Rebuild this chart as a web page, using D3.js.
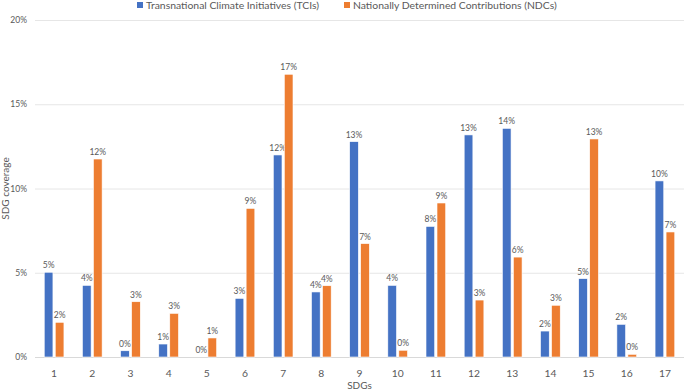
<!DOCTYPE html>
<html>
<head>
<meta charset="utf-8">
<script src="https://cdn.jsdelivr.net/npm/d3@7"></script>
<style>
  body { margin: 0; background: #fff; }
  svg text { font-family: Lato, "Open Sans", sans-serif; fill: #595959; }
</style>
</head>
<body>
<div id="chart"></div>
<script>
// SDG coverage per goal (percent)
var sdgs = ["1","2","3","4","5","6","7","8","9","10","11","12","13","14","15","16","17"];
var tciValues = [5.03, 4.25, 0.37, 0.77, 0, 3.48, 11.99, 3.86, 12.78, 4.25, 7.75, 13.18, 13.57, 1.54, 4.65, 1.94, 10.45];
var ndcValues = [2.06, 11.75, 3.28, 2.59, 1.13, 8.82, 16.78, 4.23, 6.73, 0.40, 9.14, 3.38, 5.93, 3.07, 12.94, 0.16, 7.42];
var seriesNames = ["Transnational Climate Initiatives (TCIs)", "Nationally Determined Contributions (NDCs)"];
var seriesColors = ["#4472C4", "#ED7D31"];
var yTicks = [0, 5, 10, 15, 20];

var width = 685, height = 390;
var margin = {top: 20, right: 1, bottom: 33, left: 35};

var svg = d3.select("#chart").append("svg")
    .attr("width", width)
    .attr("height", height);

var x0 = d3.scaleBand()
    .domain(sdgs)
    .range([margin.left, width - margin.right])
    .paddingInner(0.484)
    .paddingOuter(0.242);

var x1 = d3.scaleBand()
    .domain([0, 1])
    .range([0, x0.bandwidth()])
    .paddingInner(0.21);

var y = d3.scaleLinear()
    .domain([0, 20])
    .range([height - margin.bottom, margin.top]);

var pct = function(v) { return d3.format(".0f")(v) + "%"; };

// grid + y labels
var yAxis = svg.append("g")
    .attr("transform", "translate(" + margin.left + ",0)")
    .call(d3.axisLeft(y).tickValues(yTicks).tickFormat(function(d) { return d + "%"; })
        .tickSize(-(width - margin.right - margin.left)).tickPadding(8));
yAxis.select(".domain").remove();
yAxis.selectAll(".tick line")
    .attr("stroke", function(d) { return d === 0 ? "#d9d9d9" : "#e6e6e6"; })
    .attr("stroke-width", 1);
yAxis.selectAll(".tick text")
    .style("font-size", "8.5px");

// x labels
var xAxis = svg.append("g")
    .attr("transform", "translate(0," + (height - margin.bottom) + ")")
    .call(d3.axisBottom(x0).tickSize(0).tickPadding(13));
xAxis.select(".domain").remove();
xAxis.selectAll(".tick text")
    .style("font-size", "10.3px");

var series = [tciValues, ndcValues];

series.forEach(function(vals, s) {
    var g = svg.append("g");
    g.selectAll("rect")
        .data(vals)
        .enter().append("rect")
        .attr("x", function(d, i) { return x0(sdgs[i]) + x1(s); })
        .attr("y", function(d) { return y(d); })
        .attr("width", x1.bandwidth())
        .attr("height", function(d) { return y(0) - y(d); })
        .attr("fill", seriesColors[s])
        .attr("stroke", "#fff")
        .attr("stroke-width", 0.6);

    g.selectAll("text")
        .data(vals)
        .enter().append("text")
        .attr("x", function(d, i) { return x0(sdgs[i]) + x1(s) + x1.bandwidth() / 2; })
        .attr("y", function(d) { return y(d) - 4; })
        .attr("text-anchor", "middle")
        .style("font-size", "8.5px")
        .text(pct);
});

// axis titles
svg.append("text")
    .attr("transform", "translate(9," + ((margin.top + height - margin.bottom) / 2) + ") rotate(-90)")
    .attr("text-anchor", "middle")
    .style("font-size", "10px")
    .text("SDG coverage");

svg.append("text")
    .attr("x", (margin.left + width - margin.right) / 2)
    .attr("y", 389)
    .attr("text-anchor", "middle")
    .style("font-size", "10px")
    .text("SDGs");

// legend
var legendX = [137, 344];
var legend = svg.append("g");
seriesNames.forEach(function(name, s) {
    legend.append("rect")
        .attr("x", legendX[s])
        .attr("y", 2)
        .attr("width", 6)
        .attr("height", 6)
        .attr("fill", seriesColors[s]);
    legend.append("text")
        .attr("x", legendX[s] + 9)
        .attr("y", 9)
        .style("font-size", "10.4px")
        .text(name);
});
</script>
</body>
</html>
